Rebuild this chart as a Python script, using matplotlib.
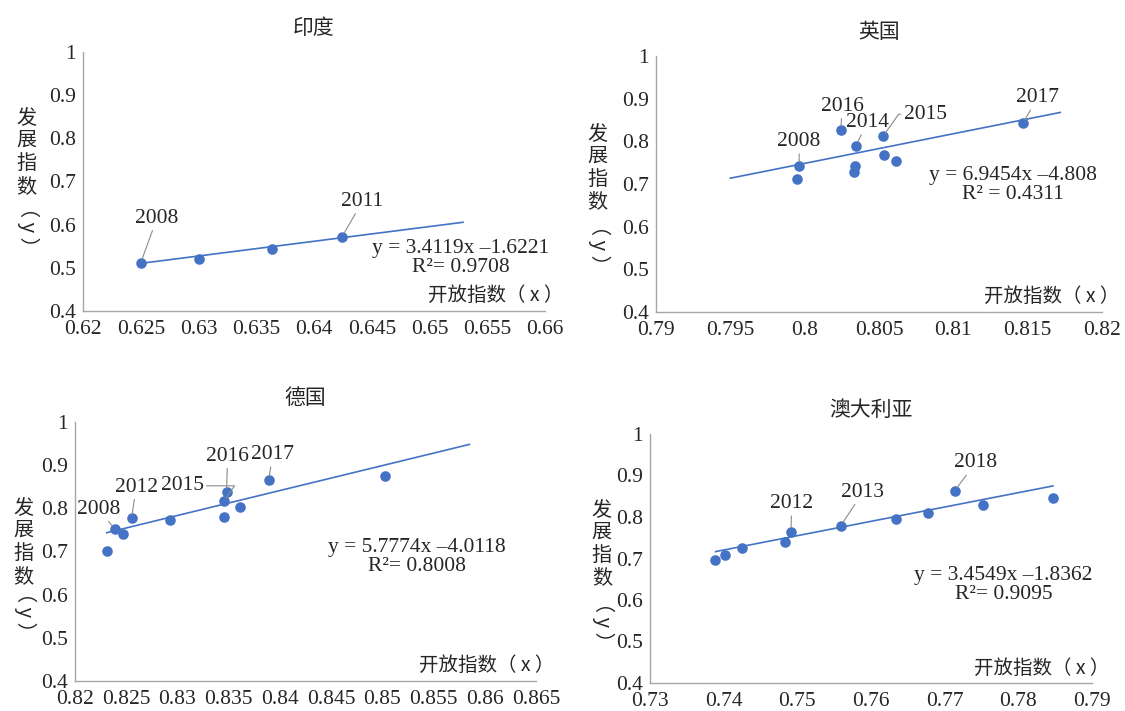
import matplotlib.pyplot as plt

plt.rcParams['font.family'] = ['Liberation Serif', 'Noto Sans CJK SC']
CJK = ['Noto Sans CJK SC', 'DejaVu Sans']

BLUE = '#4472C4'
TEXT = '#262626'
AXIS = '#a6a6a6'

y_ticks = [0.4, 0.5, 0.6, 0.7, 0.8, 0.9, 1.0]
y_labels = ['0.4', '0.5', '0.6', '0.7', '0.8', '0.9', '1']

# 印度
india_x = [0.6250, 0.6300, 0.6364, 0.6424]
india_y = [0.5115, 0.5215, 0.5446, 0.5708]
india_fit = [3.4119, -1.6221, 0.9708]
india_fit_x = [0.625, 0.6529]
india_ticks = [0.62, 0.625, 0.63, 0.635, 0.64, 0.645, 0.65, 0.655, 0.66]
india_tick_labels = ['0.62', '0.625', '0.63', '0.635', '0.64', '0.645', '0.65', '0.655', '0.66']
# (label, text x, text y, point index, elbow leader)
india_years = [('2008', 0.6264, 0.6150, 0, False), ('2011', 0.6442, 0.6540, 3, False)]

# 英国
uk_x = [0.79963, 0.79951, 0.80244, 0.80346, 0.80341, 0.80334, 0.80527, 0.80534, 0.80617, 0.81466]
uk_y = [0.7426, 0.7116, 0.8256, 0.7899, 0.7411, 0.7279, 0.8116, 0.7674, 0.7535, 0.8419]
uk_fit = [6.9454, -4.808, 0.4311]
uk_fit_x = [0.795, 0.8172]
uk_ticks = [0.79, 0.795, 0.80, 0.805, 0.81, 0.815, 0.82]
uk_tick_labels = ['0.79', '0.795', '0.8', '0.805', '0.81', '0.815', '0.82']
uk_years = [('2008', 0.79963, 0.7992, 0, False), ('2016', 0.80251, 0.8822, 2, False),
            ('2014', 0.8042, 0.8442, 3, False), ('2015', 0.8081, 0.8636, 6, True),
            ('2017', 0.81568, 0.9023, 9, False)]

# 德国
de_x = [0.82314, 0.82386, 0.82472, 0.82552, 0.8293, 0.83452, 0.83452, 0.83479, 0.83607, 0.8389, 0.85028]
de_y = [0.7023, 0.7528, 0.7395, 0.7768, 0.7737, 0.7800, 0.8165, 0.8375, 0.8033, 0.8654, 0.8747]
de_fit = [5.7774, -4.0118, 0.8008]
de_fit_x = [0.8231, 0.8585]
de_ticks = [0.82, 0.825, 0.83, 0.835, 0.84, 0.845, 0.85, 0.855, 0.86, 0.865]
de_tick_labels = ['0.82', '0.825', '0.83', '0.835', '0.84', '0.845', '0.85', '0.855', '0.86', '0.865']
de_years = [('2008', 0.8223, 0.7978, 1, False), ('2012', 0.82597, 0.8491, 3, False),
            ('2015', 0.83045, 0.8522, 6, True), ('2016', 0.8349, 0.9206, 7, False),
            ('2017', 0.8393, 0.9245, 9, False)]

# 澳大利亚
au_x = [0.73889, 0.7402, 0.74245, 0.74826, 0.74914, 0.75588, 0.76345, 0.7677, 0.77136, 0.77517, 0.78469]
au_y = [0.696, 0.7088, 0.7248, 0.740, 0.764, 0.7784, 0.7952, 0.8104, 0.8632, 0.8296, 0.8448]
au_fit = [3.4549, -1.8362, 0.9095]
au_fit_x = [0.7389, 0.7847]
au_ticks = [0.73, 0.74, 0.75, 0.76, 0.77, 0.78, 0.79]
au_tick_labels = ['0.73', '0.74', '0.75', '0.76', '0.77', '0.78', '0.79']
au_years = [('2012', 0.74924, 0.832, 4, False), ('2013', 0.75891, 0.860, 5, False),
            ('2018', 0.77419, 0.9304, 8, False)]


def draw_panel(ax, title, xs, ys, fit, fit_x, ticks, tick_labels, years,
               eq_pos, r2_sep, ylab_x, ylab_y, paren_y):
    slope, intercept, r2 = fit
    ax.plot(fit_x, [slope * v + intercept for v in fit_x], color=BLUE, lw=1.2, zorder=2)
    ax.scatter(xs, ys, s=58, color=BLUE, zorder=3, linewidths=0)

    ax.set_xlim(ticks[0], ticks[-1])
    ax.set_ylim(0.4, 1.0)
    ax.set_xticks(ticks)
    ax.set_xticklabels(tick_labels)
    ax.set_yticks(y_ticks)
    ax.set_yticklabels(y_labels)
    ax.tick_params(length=0, labelsize=15.5, colors=TEXT)
    ax.tick_params(axis='x', pad=6.5)
    ax.tick_params(axis='y', pad=5)
    for side in ['top', 'right']:
        ax.spines[side].set_visible(False)
    for side in ['left', 'bottom']:
        ax.spines[side].set_color(AXIS)
        ax.spines[side].set_linewidth(1.0)

    for label, tx, ty, i, elbow in years:
        style = 'angle,angleA=0,angleB=55,rad=0' if elbow else 'arc3'
        ax.annotate(label, xy=(xs[i], ys[i]), xytext=(tx, ty), ha='center', va='center',
                    fontsize=15.5, color=TEXT,
                    arrowprops=dict(arrowstyle='-', color='#8c8c8c', lw=0.8,
                                    shrinkA=0, shrinkB=3, connectionstyle=style))

    eq = 'y = %sx \u2013%s\nR\u00b2%s= %s' % (slope, abs(intercept), r2_sep, r2)
    ax.text(eq_pos[0], eq_pos[1], eq, ha='center', va='center', fontsize=15.5,
            color=TEXT, linespacing=0.95, multialignment='center')

    ax.set_title(title, fontsize=15, family=CJK, color=TEXT, pad=13)
    ax.text(1.04, 0.06, '开放指数（ x ）', transform=ax.transAxes, ha='right', va='center',
            fontsize=14, family=CJK, color=TEXT)
    ax.text(ylab_x, ylab_y, '发\n展\n指\n数', transform=ax.transAxes, ha='center', va='center',
            fontsize=14.5, family=CJK, color=TEXT, linespacing=1.12)
    ax.text(ylab_x + 0.004, paren_y, '（ y ）', transform=ax.transAxes, ha='center', va='center',
            fontsize=14.5, family=CJK, color=TEXT, rotation=-90)


fig = plt.figure(figsize=(11.25, 7.11), dpi=100)

ax1 = fig.add_axes([83 / 1125, 1 - 311 / 711, 462 / 1125, 259 / 711])
draw_panel(ax1, '印度', india_x, india_y, india_fit, india_fit_x, india_ticks, india_tick_labels,
           india_years, (0.6527, 0.523), '', -0.123, 0.614, 0.325)

ax2 = fig.add_axes([656 / 1125, 1 - 312 / 711, 446 / 1125, 256 / 711])
draw_panel(ax2, '英国', uk_x, uk_y, uk_fit, uk_fit_x, uk_ticks, uk_tick_labels,
           uk_years, (0.8140, 0.698), ' ', -0.132, 0.564, 0.261)

ax3 = fig.add_axes([75 / 1125, 1 - 681 / 711, 461 / 1125, 259 / 711])
draw_panel(ax3, '德国', de_x, de_y, de_fit, de_fit_x, de_ticks, de_tick_labels,
           de_years, (0.8534, 0.6875), '', -0.112, 0.537, 0.265)

ax4 = fig.add_axes([650 / 1125, 1 - 683 / 711, 442 / 1125, 249 / 711])
draw_panel(ax4, '澳大利亚', au_x, au_y, au_fit, au_fit_x, au_ticks, au_tick_labels,
           au_years, (0.7780, 0.636), '', -0.109, 0.56, 0.246)

fig.savefig('out.png', dpi=100)
